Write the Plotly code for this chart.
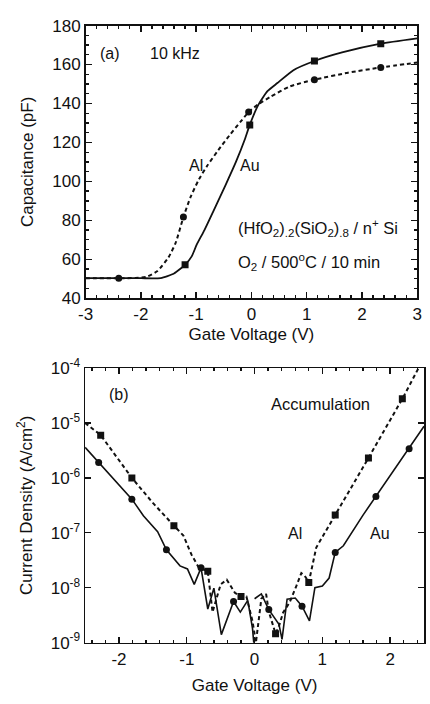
import plotly.graph_objects as go

# ---------------- Panel (a): C-V at 10 kHz ----------------
cv_au_v = [-3.0, -2.4, -2.0, -1.64, -1.4, -1.2, -1.08, -0.99, -0.85, -0.7, -0.47, -0.28, -0.12, -0.03, 0.12, 0.29, 0.47, 0.76, 1.14, 1.64, 2.34, 3.0]
cv_au_c = [50.3, 50.3, 50.3, 50.4, 52.7, 57.2, 61.5, 67.5, 75.0, 84.0, 98.0, 110.0, 121.5, 129.0, 139.0, 146.3, 150.5, 157.1, 161.8, 166.2, 170.7, 173.4]
cv_au_mk_v = [-1.2, -0.03, 1.14, 2.34]
cv_au_mk_c = [57.2, 129.0, 161.8, 170.7]

cv_al_v = [-3.0, -2.4, -2.1, -1.9, -1.7, -1.5, -1.37, -1.23, -1.1, -0.95, -0.8, -0.6, -0.4, -0.2, -0.05, 0.12, 0.35, 0.70, 1.14, 1.75, 2.34, 3.0]
cv_al_c = [50.3, 50.3, 50.4, 51.0, 54.0, 61.0, 68.5, 81.7, 92.0, 101.0, 108.0, 116.0, 123.5, 130.5, 135.6, 139.5, 143.5, 148.8, 152.2, 155.8, 158.5, 161.0]
cv_al_mk_v = [-2.4, -1.23, -0.05, 1.14, 2.34]
cv_al_mk_c = [50.3, 81.7, 135.6, 152.2, 158.5]

cv_xticks = [-3, -2, -1, 0, 1, 2, 3]
cv_xtext = ["-3", "-2", "-1", "0", "1", "2", "3"]
cv_yticks = [40, 60, 80, 100, 120, 140, 160, 180]
cv_ytext = ["40", "60", "80", "100", "120", "140", "160", "180"]

# ---------------- Panel (b): J-V ----------------
jv_au_v = [-2.50, -2.30, -1.81, -1.64, -1.43, -1.30, -1.10, -0.99, -0.89, -0.79, -0.69, -0.60, -0.49, -0.31, -0.21, -0.10, -0.03, -0.005, None,
           0.00, 0.10, 0.21, 0.36, 0.405, 0.48, 0.60, 0.70, 0.81, 0.89, 1.00, 1.10, 1.19, 1.31, 1.60, 1.79, 2.28, 2.50]
jv_au_j = [3.6e-6, 1.9e-6, 4.1e-7, 2.05e-7, 1.05e-7, 4.9e-8, 2.5e-8, 2.2e-8, 1.15e-8, 2.3e-8, 4.1e-9, 9.8e-9, 1.4e-9, 5.6e-9, 3.6e-9, 5.9e-9, 1.8e-9, 8e-10, None,
           6.3e-9, 7.7e-9, 4.0e-9, 2.15e-9, 1.15e-9, 6.2e-9, 6.5e-9, 4.6e-9, 2.5e-9, 1.0e-8, 1.07e-8, 1.5e-8, 4.4e-8, 5.8e-8, 2.1e-7, 4.6e-7, 3.4e-6, 8.7e-6]
jv_au_mk_v = [-2.30, -1.81, -1.30, -0.79, -0.31, 0.21, 0.70, 1.19, 1.79, 2.28]
jv_au_mk_j = [1.9e-6, 4.1e-7, 4.9e-8, 2.3e-8, 5.6e-9, 4.0e-9, 4.6e-9, 4.4e-8, 4.6e-7, 3.4e-6]

jv_al_v = [-2.50, -2.27, -1.81, -1.50, -1.19, -1.05, -0.93, -0.82, -0.69, -0.62, -0.50, -0.41, -0.29, -0.20, -0.12, -0.03, 0.02, 0.10, 0.17, 0.21,
           0.31, 0.36, 0.42, 0.52, 0.62, 0.69, 0.74, 0.80, 0.91, 1.19, 1.68, 2.18, 2.42]
jv_al_j = [1.0e-5, 6.0e-6, 1.0e-6, 3.5e-7, 1.35e-7, 8.9e-8, 4.0e-8, 2.3e-8, 2.0e-8, 3.6e-9, 1.15e-8, 1.4e-8, 8.1e-9, 6.9e-9, 6.9e-9, 2.45e-9, 1.0e-9, 6.3e-9, 7.7e-9, 3.7e-9,
           1.45e-9, 2.0e-9, 3.5e-9, 5.5e-9, 1.1e-8, 1.85e-8, 1.65e-8, 1.25e-8, 5.4e-8, 2.1e-7, 2.3e-6, 2.75e-5, 1.0e-4]
jv_al_mk_v = [-2.27, -1.81, -1.19, -0.69, -0.20, 0.31, 0.80, 1.19, 1.68, 2.18]
jv_al_mk_j = [6.0e-6, 1.0e-6, 1.35e-7, 2.0e-8, 6.9e-9, 1.45e-9, 1.25e-8, 2.1e-7, 2.3e-6, 2.75e-5]

jv_xticks = [-2, -1, 0, 1, 2]
jv_xtext = ["-2", "-1", "0", "1", "2"]
jv_yticks = [1e-9, 1e-8, 1e-7, 1e-6, 1e-5, 1e-4]
jv_ytext = ["10<sup>-9</sup>", "10<sup>-8</sup>", "10<sup>-7</sup>", "10<sup>-6</sup>", "10<sup>-5</sup>", "10<sup>-4</sup>"]

FONT = "Liberation Sans, Arial, Helvetica, sans-serif"
INK = "#111111"
W, H = 430, 704

fig = go.Figure()

# panel (a)
fig.add_trace(go.Scatter(x=cv_al_v, y=cv_al_c, mode="lines", line=dict(color=INK, width=2, dash="4px,3px", shape="spline", smoothing=0.6),
                         xaxis="x", yaxis="y", showlegend=False))
fig.add_trace(go.Scatter(x=cv_au_v, y=cv_au_c, mode="lines", line=dict(color=INK, width=1.8, shape="spline", smoothing=0.5),
                         xaxis="x", yaxis="y", showlegend=False))
fig.add_trace(go.Scatter(x=cv_al_mk_v, y=cv_al_mk_c, mode="markers", marker=dict(symbol="circle", size=7, color=INK),
                         xaxis="x", yaxis="y", showlegend=False))
fig.add_trace(go.Scatter(x=cv_au_mk_v, y=cv_au_mk_c, mode="markers", marker=dict(symbol="square", size=7, color=INK),
                         xaxis="x", yaxis="y", showlegend=False))

# panel (b)
fig.add_trace(go.Scatter(x=jv_al_v, y=jv_al_j, mode="lines", line=dict(color=INK, width=2, dash="4px,3px"),
                         xaxis="x2", yaxis="y2", showlegend=False, connectgaps=False))
fig.add_trace(go.Scatter(x=jv_au_v, y=jv_au_j, mode="lines", line=dict(color=INK, width=1.6),
                         xaxis="x2", yaxis="y2", showlegend=False, connectgaps=False))
fig.add_trace(go.Scatter(x=jv_al_mk_v, y=jv_al_mk_j, mode="markers", marker=dict(symbol="square", size=7, color=INK),
                         xaxis="x2", yaxis="y2", showlegend=False))
fig.add_trace(go.Scatter(x=jv_au_mk_v, y=jv_au_mk_j, mode="markers", marker=dict(symbol="circle", size=7, color=INK),
                         xaxis="x2", yaxis="y2", showlegend=False))

def px_x(p):
    return p / W

def px_y(p):
    return 1 - p / H

axis_common = dict(showline=True, linecolor=INK, linewidth=1.5, mirror="ticks", ticks="inside", ticklen=6, tickwidth=1.3,
                   tickcolor=INK, showgrid=False, zeroline=False, tickfont=dict(family=FONT, size=17, color=INK))

fig.update_layout(
    width=W, height=H, margin=dict(l=0, r=0, t=0, b=0),
    paper_bgcolor="white", plot_bgcolor="white", hovermode=False,
    font=dict(family=FONT, size=16, color=INK),
    xaxis=dict(axis_common, domain=[px_x(80), px_x(422)], range=[-3, 3], anchor="y",
               tickvals=cv_xticks, ticktext=cv_xtext,
               minor=dict(ticks="inside", ticklen=3, dtick=0.2, tickcolor=INK, showgrid=False),
               title=dict(text="Gate Voltage (V)", font=dict(family=FONT, size=17, color=INK), standoff=5)),
    yaxis=dict(axis_common, domain=[px_y(295.5), px_y(14)], range=[40, 180], anchor="x",
               tickvals=cv_yticks, ticktext=cv_ytext,
               minor=dict(ticks="inside", ticklen=3, dtick=5, tickcolor=INK, showgrid=False),
               title=dict(text="Capacitance (pF)", font=dict(family=FONT, size=17, color=INK), standoff=14)),
    xaxis2=dict(axis_common, domain=[px_x(79.5), px_x(429)], range=[-2.5, 2.5], anchor="y2",
                tickvals=jv_xticks, ticktext=jv_xtext,
                minor=dict(ticks="inside", ticklen=3, dtick=0.2, tickcolor=INK, showgrid=False),
                title=dict(text="Gate Voltage (V)", font=dict(family=FONT, size=17, color=INK), standoff=11)),
    yaxis2=dict(axis_common, domain=[px_y(651), px_y(367.5)], type="log", range=[-9, -4], anchor="x2",
                tickvals=jv_yticks, ticktext=jv_ytext,
                title=dict(text="Current Density (A/cm<sup>2</sup>)", font=dict(family=FONT, size=17, color=INK), standoff=13)),
)

ann = []
def note(text, x, y, xref, yref, xanchor="center", size=16):
    ann.append(dict(text=text, x=x, y=y, xref=xref, yref=yref, xanchor=xanchor, yanchor="middle",
                    showarrow=False, font=dict(family=FONT, size=size, color=INK)))

note("(a)", -2.56, 165.6, "x", "y")
note("10 kHz", -1.39, 165.6, "x", "y")
note("Al", -1.0, 108.2, "x", "y")
note("Au", -0.03, 108.2, "x", "y")
note("(HfO<sub>2</sub>)<sub>.2</sub>(SiO<sub>2</sub>)<sub>.8</sub> / n<sup>+</sup> Si", -0.27, 76.0, "x", "y", xanchor="left", size=16.5)
note("O<sub>2</sub> / 500<sup>o</sup>C / 10 min", -0.27, 58.5, "x", "y", xanchor="left", size=16.5)

note("(b)", -2.0, -4.48, "x2", "y2")
note("Accumulation", 0.977, -4.66, "x2", "y2", size=16.5)
note("Al", 0.596, -7.01, "x2", "y2")
note("Au", 1.857, -7.01, "x2", "y2")

fig.update_layout(annotations=ann)

# remove the browser's default 8 px body margin so the figure sits at the page origin
fig.write_html("out.html", config={"displayModeBar": False, "staticPlot": True},
               post_script="document.body.style.margin='0px';")
